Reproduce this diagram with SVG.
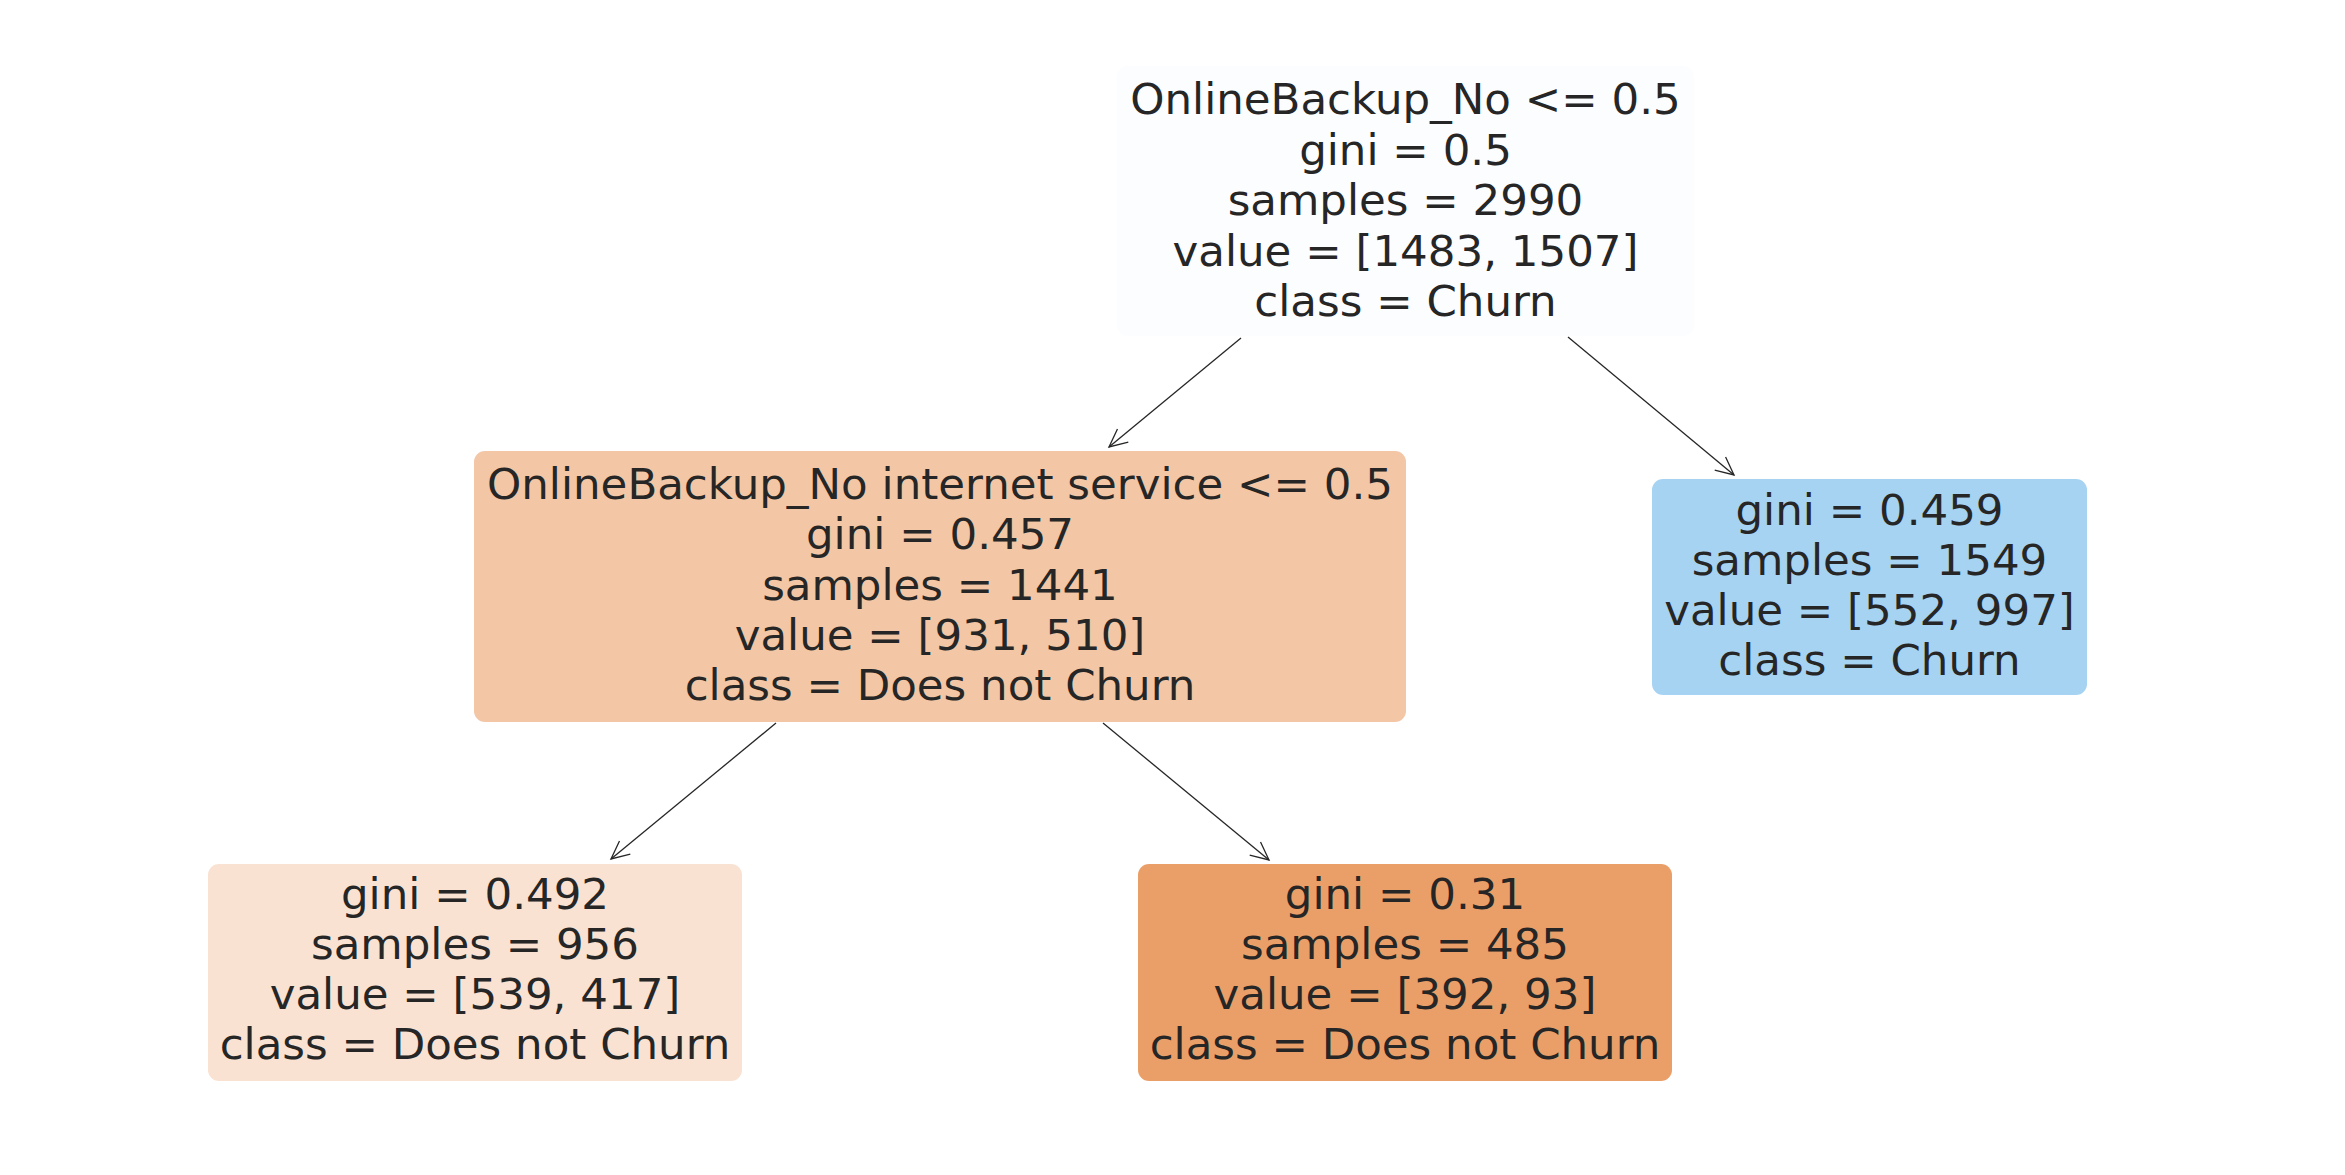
<svg xmlns="http://www.w3.org/2000/svg" width="2345" height="1175" viewBox="0 0 2345 1175">
<style>
.box{stroke:none}
.t{font-family:"DejaVu Sans",sans-serif;font-size:43.5px;fill:#262626;text-anchor:middle}
.e{stroke:#262626;stroke-width:1.3;fill:none}
</style>
<defs>
<marker id="ah" markerUnits="userSpaceOnUse" markerWidth="40" markerHeight="40" viewBox="-25 -20 30 40" refX="0" refY="0" orient="auto">
<path d="M-18,-8.5 L0,0 L-18,8.5" fill="none" stroke="#262626" stroke-width="1.3"/>
</marker>
</defs>
<rect width="2345" height="1175" fill="#ffffff"/>
<g id="connectors">
<line class="e" x1="1241" y1="338" x2="1109" y2="447" marker-end="url(#ah)"/>
<line class="e" x1="1568" y1="337" x2="1734" y2="475" marker-end="url(#ah)"/>
<line class="e" x1="776" y1="723" x2="611" y2="859" marker-end="url(#ah)"/>
<line class="e" x1="1103" y1="723" x2="1269" y2="860" marker-end="url(#ah)"/>
</g>
<g id="node0">
<rect class="box" x="1117" y="66" width="577" height="270" rx="11" fill="#fcfdff"/>
<text class="t" x="1405.5" y="114">OnlineBackup_No &lt;= 0.5</text>
<text class="t" x="1405.5" y="164.5">gini = 0.5</text>
<text class="t" x="1405.5" y="215">samples = 2990</text>
<text class="t" x="1405.5" y="265.5">value = [1483, 1507]</text>
<text class="t" x="1405.5" y="316">class = Churn</text>
</g>
<g id="node1">
<rect class="box" x="474" y="451" width="932" height="271" rx="11" fill="#f3c6a5"/>
<text class="t" x="940" y="498.5">OnlineBackup_No internet service &lt;= 0.5</text>
<text class="t" x="940" y="549">gini = 0.457</text>
<text class="t" x="940" y="599.5">samples = 1441</text>
<text class="t" x="940" y="650">value = [931, 510]</text>
<text class="t" x="940" y="700">class = Does not Churn</text>
</g>
<g id="node4">
<rect class="box" x="1652" y="479" width="435" height="216" rx="11" fill="#a7d3f3"/>
<text class="t" x="1869.5" y="525">gini = 0.459</text>
<text class="t" x="1869.5" y="575">samples = 1549</text>
<text class="t" x="1869.5" y="625">value = [552, 997]</text>
<text class="t" x="1869.5" y="675">class = Churn</text>
</g>
<g id="node2">
<rect class="box" x="208" y="864" width="534" height="217" rx="11" fill="#f9e2d2"/>
<text class="t" x="475" y="909">gini = 0.492</text>
<text class="t" x="475" y="959">samples = 956</text>
<text class="t" x="475" y="1009">value = [539, 417]</text>
<text class="t" x="475" y="1059">class = Does not Churn</text>
</g>
<g id="node3">
<rect class="box" x="1138" y="864" width="534" height="217" rx="11" fill="#eb9f68"/>
<text class="t" x="1405" y="909">gini = 0.31</text>
<text class="t" x="1405" y="959">samples = 485</text>
<text class="t" x="1405" y="1009">value = [392, 93]</text>
<text class="t" x="1405" y="1059">class = Does not Churn</text>
</g>
</svg>
